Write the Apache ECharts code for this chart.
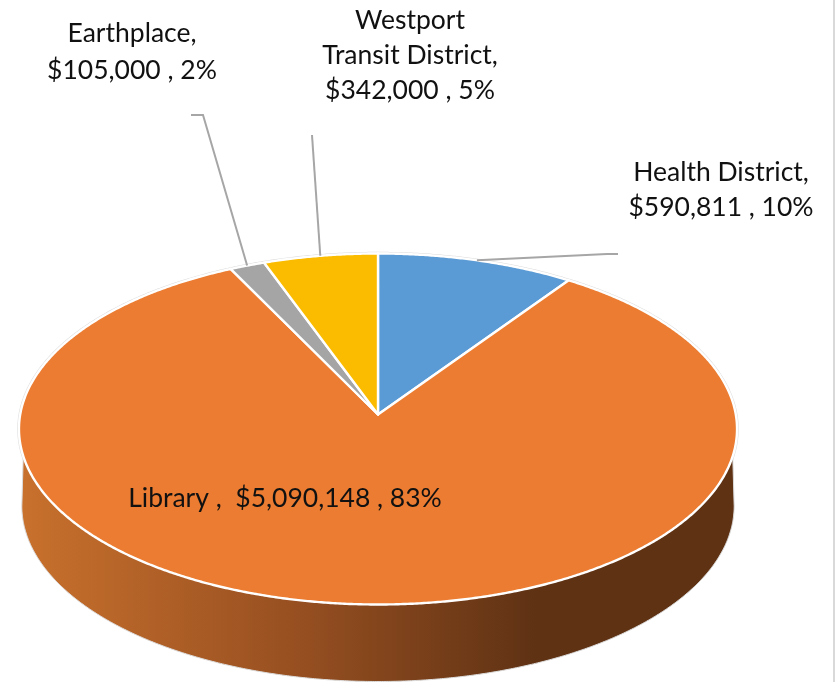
<!DOCTYPE html>
<html>
<head>
<meta charset="utf-8">
<style>html,body{margin:0;padding:0;background:#fff}#c{width:839px;height:682px}</style>
<script src="https://cdn.jsdelivr.net/npm/echarts@6/dist/echarts.min.js"></script>
</head>
<body>
<div id="c"></div>
<script>
// Data, clockwise from 12 o'clock
const categories = ['Health District', 'Library', 'Earthplace', 'Westport Transit District'];
const values = [590811, 5090148, 105000, 342000];
const percentLabels = ['10%', '83%', '2%', '5%'];
const labelLines = [
  ['Health District,', '$590,811 , 10%'],
  ['Library ,  $5,090,148 , 83%'],
  ['Earthplace,', '$105,000 , 2%'],
  ['Westport', 'Transit District,', '$342,000 , 5%']
];
const colors = ['#5B9BD5', '#EB7C31', '#A5A5A5', '#FBBC00'];

// Layout
const apex = [378, 414.5], A = 357.8, B = 174.3, K = 0.0826, DEPTH = 77;
const labelPos = [[721, 189.5], [285, 498], [132, 52], [410, 55]];
const labelLineHeights = [35, 35, 37, 35];
const leaderBends = [
  [[607, 254], [618, 254]],
  null,
  [[203, 115], [191, 115]],
  [[312, 135]]
];
const total = values.reduce((a, b) => a + b, 0);

function rim(theta, dy = 0, shrink = 1) {
  const w = 1 + K * Math.cos(theta);
  return [apex[0] + shrink * A * Math.sin(theta) / w,
          apex[1] - B * Math.cos(theta) / w + dy];
}
function arc(t0, t1, dy, shrink) {
  const n = Math.max(2, Math.ceil(Math.abs(t1 - t0) / 0.006));
  const out = [];
  for (let i = 0; i <= n; i++) out.push(rim(t0 + (t1 - t0) * i / n, dy, shrink));
  return out;
}
function startAngle(i) {
  let s = 0;
  for (let j = 0; j < i; j++) s += values[j];
  return s / total * Math.PI * 2;
}

const fontFamily = 'Lato, Carlito, "Open Sans", sans-serif';

function renderWall() {
  // side wall: from the right extreme, along the lower rim, to the left extreme
  const tR = Math.PI / 2 + 0.08, tL = 3 * Math.PI / 2 - 0.08;
  const top = arc(tR - 0.18, tL + 0.18, 0, 1);
  const bottom = arc(tR, tL, DEPTH, 0.992).reverse();
  const points = top.concat(bottom);
  return {
    type: 'group',
    children: [
      { type: 'polygon', shape: { points: arc(0, Math.PI * 2, 0, 1) },
        style: { fill: '#fff', stroke: '#dcdcdc', lineWidth: 3.4 } },
      { type: 'polygon', shape: { points },
        style: {
          stroke: '#dcdcdc', lineWidth: 1,
          fill: new echarts.graphic.LinearGradient(0, 0, 1, 0, [
            { offset: 0, color: '#c9712d' },
            { offset: 0.38, color: '#985021' },
            { offset: 0.72, color: '#5f3214' },
            { offset: 1, color: '#5f3214' }
          ])
        } }
    ]
  };
}

function renderSlice(params, api) {
  const i = params.dataIndex;
  const t0 = startAngle(i);
  const t1 = t0 + api.value(1) / total * Math.PI * 2;
  const points = [apex].concat(arc(t0, t1, 0, 1));
  return {
    type: 'polygon',
    shape: { points },
    style: { fill: colors[i], stroke: '#fff', lineWidth: 2.4, lineJoin: 'round' }
  };
}

function renderLabel(params, api) {
  const i = params.dataIndex;
  const t0 = startAngle(i);
  const t1 = t0 + api.value(1) / total * Math.PI * 2;
  const children = [];
  if (leaderBends[i]) {
    children.push({
      type: 'polyline',
      shape: { points: [rim((t0 + t1) / 2)].concat(leaderBends[i]) },
      style: { fill: 'none', stroke: '#a6a6a6', lineWidth: 2 }
    });
  }
  children.push({
    type: 'text',
    style: {
      x: labelPos[i][0], y: labelPos[i][1],
      text: labelLines[i].join('\n'),
      font: '26.5px ' + fontFamily,
      lineHeight: labelLineHeights[i],
      fill: '#111',
      align: 'center',
      verticalAlign: 'middle'
    }
  });
  return { type: 'group', children };
}

const sliceData = categories.map((c, i) => ({ name: c, value: [i, values[i], percentLabels[i]] }));

const chart = echarts.init(document.getElementById('c'), null, { renderer: 'canvas' });
chart.setOption({
  animation: false,
  backgroundColor: '#fff',
  tooltip: { show: false },
  graphic: [{
    type: 'rect', silent: true, z: 100,
    shape: { x: 833, y: 0, width: 2, height: 682 },
    style: { fill: '#d9d9d9' }
  }],
  series: [
    { type: 'custom', coordinateSystem: 'none', silent: true, z: 1, data: [total], renderItem: renderWall },
    { type: 'custom', coordinateSystem: 'none', silent: true, z: 2, data: sliceData, renderItem: renderSlice },
    { type: 'custom', coordinateSystem: 'none', silent: true, z: 3, data: sliceData, renderItem: renderLabel }
  ]
});
</script>
</body>
</html>
